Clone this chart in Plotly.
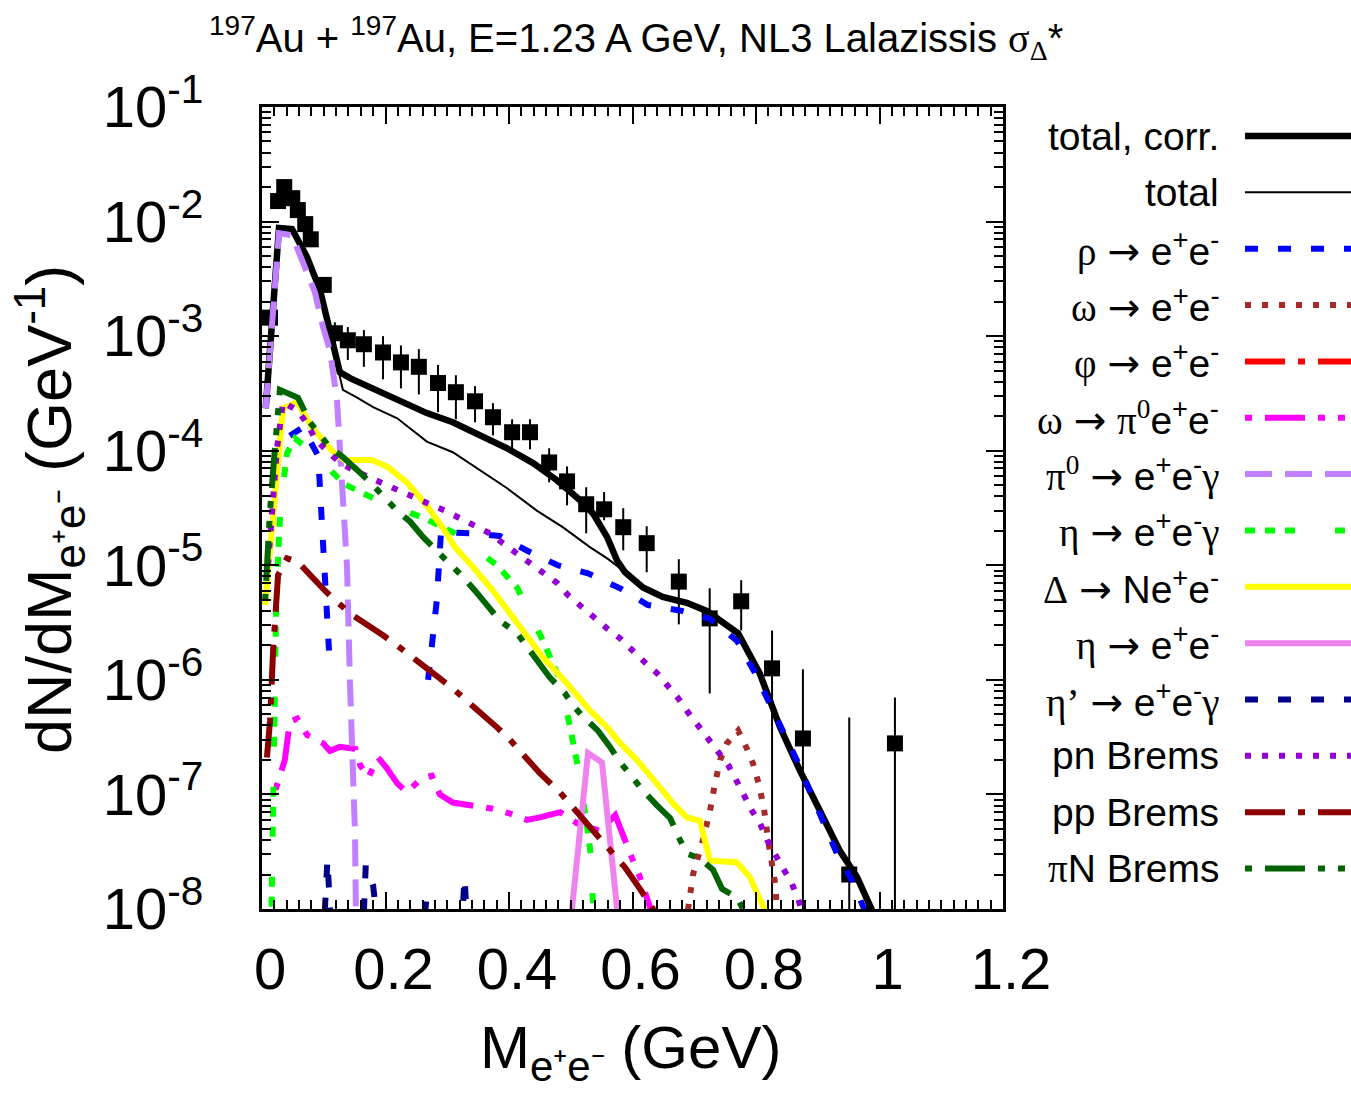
import plotly.graph_objects as go

# ---------------- data ----------------
data_x = [0.013, 0.026, 0.036, 0.049, 0.058, 0.070, 0.079, 0.100, 0.118, 0.139, 0.165, 0.196,
          0.225, 0.254, 0.285, 0.314, 0.345, 0.374, 0.405, 0.434, 0.465, 0.494, 0.525, 0.554,
          0.585, 0.623, 0.675, 0.725, 0.776, 0.826, 0.876, 0.951, 1.025]
data_y = [1.45e-3, 1.51e-2, 2.0e-2, 1.6e-2, 1.26e-2, 9.5e-3, 7.0e-3, 2.8e-3, 1.06e-3, 9.2e-4, 8.5e-4, 7.2e-4,
          5.9e-4, 5.4e-4, 3.9e-4, 3.24e-4, 2.7e-4, 1.96e-4, 1.45e-4, 1.45e-4, 7.9e-5, 5.4e-5, 3.41e-5, 3.08e-5,
          2.15e-5, 1.56e-5, 7.2e-6, 3.44e-6, 4.85e-6, 1.26e-6, 3.08e-7, 2.0e-8, 2.79e-7]
data_hi = [1.6e-3, 1.6e-2, 2.1e-2, 1.7e-2, 1.33e-2, 1.0e-2, 7.4e-3, 3.0e-3, 1.32e-3, 1.2e-3, 1.13e-3, 1.0e-3,
           8.3e-4, 7.7e-4, 5.6e-4, 4.56e-4, 3.66e-4, 2.6e-4, 1.88e-4, 1.88e-4, 1.05e-4, 7.3e-5, 4.8e-5, 4.35e-5,
           3.15e-5, 2.19e-5, 1.13e-5, 6.3e-6, 7.4e-6, 2.7e-6, 1.24e-6, 4.7e-7, 7.0e-7]
data_lo = [1.3e-3, 1.42e-2, 1.9e-2, 1.5e-2, 1.19e-2, 9.0e-3, 6.6e-3, 2.6e-3, 8.3e-4, 6.2e-4, 5.4e-4, 4.2e-4,
           3.5e-4, 3.1e-4, 2.17e-4, 1.88e-4, 1.77e-4, 1.36e-4, 1.05e-4, 1.03e-4, 5.3e-5, 3.34e-5, 1.9e-5, 2.47e-5,
           1.35e-5, 8.7e-6, 3.05e-6, 7.6e-7, 2.7e-6, 1e-10, 1e-10, 1e-10, 1e-10]

tot_corr_x = [0.006, 0.0275, 0.0486, 0.0729, 0.094, 0.110, 0.126, 0.1425, 0.180, 0.235, 0.267, 0.309,
              0.353, 0.397, 0.439, 0.478, 0.515, 0.536, 0.559, 0.575, 0.588, 0.617, 0.649, 0.688,
              0.720, 0.771, 0.806, 0.839, 0.871, 0.9085, 0.936, 0.9636, 0.985, 1.0]
tot_corr_y = [2.35e-4, 8.8e-3, 8.6e-3, 4.9e-3, 2.52e-3, 1.13e-3, 4.85e-4, 4.3e-4, 3.5e-4, 2.6e-4, 2.13e-4, 1.77e-4,
              1.36e-4, 1.05e-4, 7.8e-5, 5.5e-5, 3.7e-5, 2.84e-5, 1.76e-5, 1.1e-5, 8.7e-6, 6.4e-6, 5.3e-6, 4.7e-6,
              4.0e-6, 2.55e-6, 1.14e-6, 3.85e-7, 1.62e-7, 6.3e-8, 3.2e-8, 1.9e-8, 1.0e-8, 7e-9]

tot_x = [0.006, 0.0275, 0.0486, 0.0729, 0.094, 0.110, 0.122, 0.131, 0.154, 0.180, 0.219, 0.267, 0.309,
         0.353, 0.397, 0.445, 0.487, 0.531, 0.559, 0.591, 0.617, 0.649, 0.688,
         0.720, 0.771, 0.806, 0.839, 0.871, 0.9085, 0.936, 0.9636, 0.985, 1.0]
tot_y = [2.35e-4, 8.8e-3, 8.6e-3, 4.9e-3, 2.52e-3, 1.13e-3, 5.5e-4, 3.4e-4, 2.9e-4, 2.4e-4, 1.92e-4, 1.2e-4, 9.7e-5,
         6.8e-5, 4.7e-5, 3.0e-5, 2.15e-5, 1.44e-5, 1.15e-5, 8.5e-6, 6.4e-6, 5.3e-6, 4.7e-6,
         4.0e-6, 2.55e-6, 1.14e-6, 3.85e-7, 1.62e-7, 6.3e-8, 3.2e-8, 1.9e-8, 1.0e-8, 7e-9]

rho_x = [0.045, 0.066, 0.091, 0.1085, None, 0.269, 0.283, 0.290, 0.301, 0.340, 0.385, 0.432, 0.479,
         0.528, 0.580, 0.625, 0.680, 0.7255, 0.769, 0.798, 0.823, 0.844, 0.866, 0.887, 0.909,
         0.931, 0.9555, 0.978, 0.993]
rho_y = [1.35e-4, 1.6e-4, 9.0e-5, 1.8e-6, None, 1.0e-6, 4.9e-6, 2.0e-5, 1.94e-5, 1.9e-5, 1.8e-5, 1.32e-5, 1.0e-5,
         8.5e-6, 6.3e-6, 4.5e-6, 4.0e-6, 3.4e-6, 2.2e-6, 1.16e-6, 6.2e-7, 3.6e-7, 2.0e-7, 1.08e-7, 5.6e-8,
         3.05e-8, 1.77e-8, 9.7e-9, 6e-9]

omega_x = [0.682, 0.698, 0.714, 0.7255, 0.7336, 0.742, 0.753, 0.771, 0.784, 0.795, 0.805, 0.813,
           0.819, 0.826, 0.831, 0.834, 0.837]
omega_y = [5e-9, 2.0e-8, 4.0e-8, 7.2e-8, 1.25e-7, 2.0e-7, 2.8e-7, 3.6e-7, 2.6e-7, 1.87e-7, 1.2e-7, 7.5e-8,
           4.2e-8, 2.65e-8, 1.67e-8, 1.0e-8, 6e-9]

omdal_x = [0.022, 0.026, 0.037, 0.045, 0.057, 0.073, 0.099, 0.110, 0.126, 0.151, 0.159, 0.172, 0.188,
           0.202, 0.219, 0.235, 0.259, 0.275, 0.288, 0.309, 0.342, 0.374, 0.402, 0.429, 0.450,
           0.483, 0.510, 0.547, 0.572, 0.585, 0.599, 0.612, 0.623, 0.632]
omdal_y = [1.1e-7, 1.32e-7, 2.0e-7, 4.3e-7, 4.6e-7, 3.3e-7, 2.8e-7, 2.4e-7, 2.6e-7, 2.5e-7, 1.8e-7, 1.4e-7, 2.1e-7,
           1.7e-7, 1.25e-7, 1.04e-7, 1.4e-7, 1.46e-7, 1.0e-7, 8.5e-8, 8.0e-8, 7.5e-8, 6.8e-8, 6.0e-8, 6.3e-8,
           7.0e-8, 5.6e-8, 4.8e-8, 6.6e-8, 4.2e-8, 2.8e-8, 1.9e-8, 1.26e-8, 9e-9]

pi0_x = [0.006, 0.0275, 0.0486, 0.0696, 0.0858, 0.0988, 0.110, 0.1215, 0.126, 0.131, 0.1377, 0.1425,
         0.147, 0.1506, 0.152, 0.154]
pi0_y = [2.35e-4, 7.9e-3, 7.6e-3, 4.0e-3, 2.4e-3, 1.2e-3, 7.5e-4, 2.76e-4, 1.0e-4, 3.7e-5, 9.6e-6, 9.3e-7,
         1.7e-7, 4.6e-8, 1.0e-8, 4e-9]

etad_x = [0.015, 0.0227, 0.0275, 0.031, 0.0405, 0.0534, 0.0777, 0.134, 0.1636, 0.194, 0.261, 0.3125,
          0.3806, 0.413, 0.455, 0.4826, 0.499, 0.512, 0.528, 0.533, 0.536, 0.538]
etad_y = [7e-9, 3.66e-6, 1.83e-5, 3.7e-5, 9.5e-5, 1.28e-4, 1.0e-4, 5.1e-5, 4.25e-5, 3.55e-5, 2.6e-5, 1.9e-5,
          1.0e-5, 6.4e-6, 2.2e-6, 1.0e-6, 3.85e-7, 1.7e-7, 4.6e-8, 2.8e-8, 1.1e-8, 8e-9]

delta_x = [0.005, 0.034, 0.057, 0.081, 0.1134, 0.134, 0.178, 0.204, 0.236, 0.269, 0.296, 0.3125,
           0.342, 0.374, 0.418, 0.455, 0.494, 0.531, 0.559, 0.580, 0.607, 0.628, 0.649, 0.666,
           0.688, 0.709, 0.7255, 0.769, 0.790, 0.8065, 0.818]
delta_y = [4.5e-6, 2.35e-4, 2.65e-4, 1.6e-4, 1.0e-4, 8.3e-5, 8.3e-5, 7.2e-5, 5.2e-5, 3.2e-5, 2.0e-5, 1.44e-5,
           9.6e-6, 6.0e-6, 2.9e-6, 1.57e-6, 9.3e-7, 5.4e-7, 3.85e-7, 2.8e-7, 2.0e-7, 1.5e-7, 1.08e-7, 8.3e-8,
           6.3e-8, 5.9e-8, 2.65e-8, 2.55e-8, 1.9e-8, 1.2e-8, 9e-9]

etadir_x = [0.499, 0.528, 0.5506, 0.578]
etadir_y = [7e-9, 2.3e-7, 1.9e-7, 7e-9]

etap_x = [0.099, 0.106, 0.113, 0.163, 0.168, 0.180, 0.190, 0.260, 0.266, 0.272, 0.322, 0.328, 0.334]
etap_y = [5e-9, 2.7e-8, 5e-9, 5e-9, 2.4e-8, 1.6e-8, 5e-9, 5e-9, 1.2e-8, 5e-9, 5e-9, 1.9e-8, 5e-9]

pn_x = [0.0097, 0.0178, 0.0243, 0.034, 0.0567, 0.0729, 0.0858, 0.105, 0.126, 0.147, 0.172, 0.196,
        0.2235, 0.248, 0.272, 0.296, 0.3206, 0.345, 0.369, 0.390, 0.413, 0.437, 0.458, 0.478,
        0.4955, 0.518, 0.539, 0.559, 0.580, 0.599, 0.620, 0.640, 0.6575, 0.674, 0.690, 0.706,
        0.722, 0.738, 0.755, 0.769, 0.779, 0.7935, 0.8065, 0.818, 0.831, 0.844, 0.858, 0.868, 0.876]
pn_y = [1.0e-5, 3.7e-5, 1.05e-4, 2.65e-4, 2.26e-4, 1.74e-4, 1.28e-4, 1.0e-4, 7.9e-5, 6.8e-5, 5.9e-5, 5.1e-5,
        4.4e-5, 3.9e-5, 3.4e-5, 3.0e-5, 2.6e-5, 2.24e-5, 1.9e-5, 1.56e-5, 1.27e-5, 1.04e-5, 8.5e-6, 7.0e-6,
        5.5e-6, 4.3e-6, 3.4e-6, 2.8e-6, 2.3e-6, 1.8e-6, 1.42e-6, 1.14e-6, 9.0e-7, 6.9e-7, 5.2e-7, 4.0e-7,
        3.1e-7, 2.3e-7, 1.8e-7, 1.3e-7, 1.0e-7, 7.2e-8, 5.6e-8, 4.0e-8, 3.0e-8, 2.26e-8, 1.67e-8, 1.24e-8, 9e-9]

pp_x = [0.008, 0.013, 0.018, 0.026, 0.0405, 0.058, 0.102, 0.1215, 0.1425, 0.196, 0.2186, 0.288,
        0.3125, 0.3806, 0.4016, 0.450, 0.4826, 0.5036, 0.536, 0.560, 0.588, 0.612, 0.633, 0.645]
pp_y = [2.1e-7, 4.4e-7, 1.8e-6, 8.2e-6, 1.15e-5, 1.07e-5, 6.0e-6, 4.75e-6, 3.8e-6, 2.45e-6, 2.0e-6, 1.03e-6,
        8.1e-7, 3.85e-7, 3.0e-7, 1.53e-7, 1.04e-7, 7.7e-8, 4.85e-8, 3.4e-8, 2.3e-8, 1.5e-8, 1.0e-8, 8e-9]

piN_x = [0.005, 0.008, 0.013, 0.0194, 0.026, 0.029, 0.0583, 0.0777, 0.110, 0.131, 0.154, 0.175,
         0.2186, 0.240, 0.261, 0.283, 0.3255, 0.345, 0.385, 0.413, 0.447, 0.466, 0.4907, 0.5036,
         0.518, 0.544, 0.5636, 0.580, 0.596, 0.617, 0.640, 0.661, 0.677, 0.688, 0.709, 0.7304,
         0.745, 0.769, 0.779, 0.787]
piN_y = [4.9e-6, 1.27e-5, 3.0e-5, 8.3e-5, 2.0e-4, 3.4e-4, 2.9e-4, 1.77e-4, 1.07e-4, 8.8e-5, 6.8e-5, 5.3e-5,
         3.0e-5, 2.4e-5, 1.76e-5, 1.35e-5, 7.9e-6, 6.0e-6, 3.3e-6, 2.55e-6, 1.48e-6, 1.05e-6, 7.6e-7, 6.0e-7,
         4.9e-7, 3.6e-7, 2.6e-7, 1.9e-7, 1.5e-7, 1.08e-7, 8.0e-8, 6.2e-8, 4.0e-8, 3.05e-8, 2.76e-8, 2.2e-8,
         1.5e-8, 1.26e-8, 1.0e-8, 8e-9]

x_tickvals = [0, 0.2, 0.4, 0.6, 0.8, 1.0, 1.2]
x_ticktext = ["0", "0.2", "0.4", "0.6", "0.8", "1", "1.2"]
y_exponents = [-8, -7, -6, -5, -4, -3, -2, -1]

# ---------------- styles ----------------
SERIF = "Liberation Serif"
SANS = "Liberation Sans"
ARROW = '<span style="font-family:DejaVu Sans">→</span>'


def gr(t):
    return f'<span style="font-family:{SERIF}">{t}</span>'


EE = "e<sup>+</sup>e<sup>-</sup>"

series = [
    # (name, x, y, color, width, dash)
    ("total, corr.", tot_corr_x, tot_corr_y, "#000000", 6.5, "solid"),
    ("total", tot_x, tot_y, "#000000", 2, "solid"),
    (gr("ρ") + " " + ARROW + " " + EE, rho_x, rho_y, "#0000ff", 6, "13px,20px"),
    (gr("ω") + " " + ARROW + " " + EE, omega_x, omega_y, "#a52a2a", 6, "6px,11px"),
    (gr("φ") + " " + ARROW + " " + EE, None, None, "#ff0000", 6, "40px,13px,7px,13px"),
    (gr("ω") + " " + ARROW + " " + gr("π<sup>0</sup>") + EE, omdal_x, omdal_y, "#ff00ff", 6,
     "7px,13px,40px,13px,7px,13px"),
    (gr("π<sup>0</sup>") + " " + ARROW + " " + EE + gr("γ"), pi0_x, pi0_y, "#c080ff", 6, "27px,13px"),
    (gr("η") + " " + ARROW + " " + EE + gr("γ"), etad_x, etad_y, "#00ff00", 6,
     "10px,10px,10px,10px,10px,40px"),
    (gr("Δ") + " " + ARROW + " N" + EE, delta_x, delta_y, "#ffff00", 6, "solid"),
    (gr("η") + " " + ARROW + " " + EE, etadir_x, etadir_y, "#ee82ee", 6, "solid"),
    (gr("η’") + " " + ARROW + " " + EE + gr("γ"), etap_x, etap_y, "#00008b", 6, "13px,20px"),
    ("pn Brems", pn_x, pn_y, "#9400d3", 6, "6px,11px"),
    ("pp Brems", pp_x, pp_y, "#8b0000", 6, "40px,13px,7px,13px"),
    (gr("π") + "N Brems", piN_x, piN_y, "#006400", 6, "7px,13px,40px,13px,7px,13px"),
]

fig = go.Figure()

# data points
err_plus = [h - v for h, v in zip(data_hi, data_y)]
err_minus = [v - l for v, l in zip(data_y, data_lo)]
fig.add_trace(go.Scatter(
    x=data_x, y=data_y, mode="markers",
    marker=dict(symbol="square", size=16, color="black"),
    error_y=dict(type="data", symmetric=False, array=err_plus, arrayminus=err_minus,
                 color="black", thickness=2, width=0),
    showlegend=False, hoverinfo="skip"))

for name, xs, ys, color, width, dash in series:
    if xs is None:
        continue
    fig.add_trace(go.Scatter(x=xs, y=ys, mode="lines",
                             line=dict(color=color, width=width, dash=dash),
                             showlegend=False, connectgaps=False))

# ---------------- layout geometry ----------------
W, H = 1351, 1095
L, R, T, B = 262, 1003, 107, 909
pw, ph = R - L, B - T


def px(xp):
    return (xp - L) / pw


def py(yp):
    return (B - yp) / ph


annotations = []
shapes = []
row0, dy = 136.0, 56.35
for i, (name, xs, ys, color, width, dash) in enumerate(series):
    yc = row0 + i * dy
    annotations.append(dict(
        xref="paper", yref="paper", x=px(1221), y=py(yc), xanchor="right", yanchor="middle",
        text=name, showarrow=False, font=dict(family=SANS, size=39, color="black")))
    shapes.append(dict(
        type="line", xref="paper", yref="paper", x0=px(1245), x1=px(1351), y0=py(yc), y1=py(yc),
        line=dict(color=color, width=width, dash=dash)))

# titles
annotations.append(dict(
    xref="paper", yref="paper", x=px(636), y=py(38), xanchor="center", yanchor="middle",
    text="<sup>197</sup>Au + <sup>197</sup>Au, E=1.23 A GeV, NL3 Lalazissis "
         + gr("σ<sub>Δ</sub>") + "*",
    showarrow=False, font=dict(family=SANS, size=40, color="black")))
annotations.append(dict(
    xref="paper", yref="paper", x=px(630), y=py(1052), xanchor="center", yanchor="middle",
    text="M<sub>e⁺e⁻</sub> (GeV)", showarrow=False,
    font=dict(family=SANS, size=60, color="black")))
annotations.append(dict(
    xref="paper", yref="paper", x=px(50), y=py(510), xanchor="center", yanchor="middle",
    textangle=-90, text="dN/dM<sub>e⁺e⁻</sub> (GeV<sup>-1</sup>)", showarrow=False,
    font=dict(family=SANS, size=63, color="black")))

y_minor = [m * 10.0 ** e for e in y_exponents[:-1] for m in range(2, 10)]

fig.update_layout(
    width=W, height=H,
    margin=dict(l=L, r=W - R, t=T, b=H - B, pad=0),
    paper_bgcolor="white", plot_bgcolor="white",
    showlegend=False,
    annotations=annotations, shapes=shapes,
    font=dict(family=SANS, color="black"),
    xaxis=dict(range=[0, 1.2], tickmode="array", tickvals=x_tickvals, ticktext=x_ticktext,
               ticks="inside", ticklen=17, tickwidth=2, tickcolor="black",
               showline=True, linewidth=3, linecolor="black", mirror="allticks",
               showgrid=False, zeroline=False,
               tickfont=dict(family=SANS, size=58, color="black"),
               ticklabelstandoff=7, ticklabelshift=8,
               minor=dict(ticks="inside", ticklen=9, tickwidth=2, tickcolor="black", dtick=0.02,
                          showgrid=False)),
    yaxis=dict(type="log", range=[-8, -1], tickmode="array",
               tickvals=[10.0 ** e for e in y_exponents],
               ticktext=[f"10<sup>{e}</sup>" for e in y_exponents],
               ticks="inside", ticklen=17, tickwidth=2, tickcolor="black",
               showline=True, linewidth=3, linecolor="black", mirror="allticks",
               showgrid=False, zeroline=False,
               tickfont=dict(family=SANS, size=58, color="black"),
               ticklabelstandoff=44,
               minor=dict(ticks="inside", ticklen=9, tickwidth=2, tickcolor="black",
                          tickvals=y_minor, showgrid=False)),
)

fig.write_html("out.html")
